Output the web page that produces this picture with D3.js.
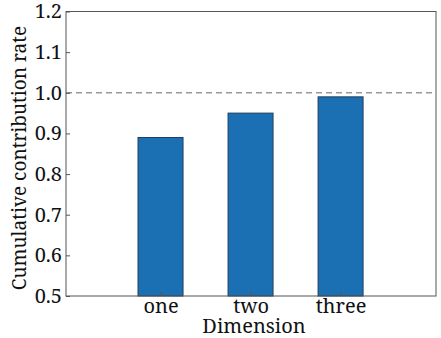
<!DOCTYPE html>
<html>
<head>
<meta charset="utf-8">
<script src="https://cdn.jsdelivr.net/npm/d3@7"></script>
<style>
  html, body { margin: 0; padding: 0; background: #fff; }
  svg { display: block; }
</style>
</head>
<body>
<svg id="chart" width="441" height="338"></svg>
<script>
// Cumulative contribution rate by dimension
const categories = ["one", "two", "three"];
const values = [0.89, 0.95, 0.99];
const yTicks = [0.5, 0.6, 0.7, 0.8, 0.9, 1.0, 1.1, 1.2];
const threshold = 1.0;

const W = 441, H = 338;
const margin = { left: 66, right: 5, top: 11.5, bottom: 42 };
const x0 = margin.left, x1 = W - margin.right;
const y0 = H - margin.bottom, y1 = margin.top;
const fontSize = 20;
const serif = '"Noto Serif", "DejaVu Serif", serif';

const svg = d3.select("#chart");

// categories sit at positions 1..3 on a numeric axis
const x = d3.scaleLinear().domain([-0.05, 4.06]).range([x0, x1]);
const y = d3.scaleLinear().domain([0.5, 1.2]).range([y0, y1]);
const barW = 0.5;

// bars
svg.append("g").selectAll("rect")
  .data(values)
  .join("rect")
  .attr("x", (d, i) => x(i + 1 - barW / 2))
  .attr("y", d => y(d))
  .attr("width", (d, i) => x(i + 1 + barW / 2) - x(i + 1 - barW / 2))
  .attr("height", d => y(0.5) - y(d))
  .attr("fill", "#1b6fb3")
  .attr("stroke", "#233f5c")
  .attr("stroke-width", 1);

// reference line at full contribution
svg.append("line")
  .attr("x1", x0).attr("x2", x1)
  .attr("y1", y(threshold)).attr("y2", y(threshold))
  .attr("stroke", "#999")
  .attr("stroke-width", 1.5)
  .attr("stroke-dasharray", "6,4");

function styleText(sel, size = fontSize) {
  sel.style("font-family", serif)
    .style("font-size", size + "px")
    .style("fill", "#111");
}

// y axis (ticks pointing inward)
const yAxis = d3.axisLeft(y)
  .tickValues(yTicks)
  .tickFormat(d3.format(".1f"))
  .tickSizeInner(-4)
  .tickSizeOuter(0)
  .tickPadding(4);
const gy = svg.append("g").attr("transform", `translate(${x0},0)`).call(yAxis);
gy.select(".domain").remove();
gy.selectAll(".tick line").attr("stroke", "#555");
gy.selectAll(".tick text").call(styleText);

// x axis (ticks pointing inward)
const xAxis = d3.axisBottom(x)
  .tickValues([1, 2, 3])
  .tickFormat((d, i) => categories[i])
  .tickSizeInner(-4)
  .tickSizeOuter(0)
  .tickPadding(3);
const gx = svg.append("g").attr("transform", `translate(0,${y0})`).call(xAxis);
gx.select(".domain").remove();
gx.selectAll(".tick line").attr("stroke", "#555");
gx.selectAll(".tick text").call(styleText);

// plot frame
svg.append("rect")
  .attr("x", x0).attr("y", y1)
  .attr("width", x1 - x0).attr("height", y0 - y1)
  .attr("fill", "none")
  .attr("stroke", "#555")
  .attr("stroke-width", 1);

// axis titles
svg.append("text")
  .attr("x", 254)
  .attr("y", 332.5)
  .attr("text-anchor", "middle")
  .call(styleText)
  .text("Dimension");

svg.append("text")
  .attr("transform", "translate(26,158) rotate(-90)")
  .attr("text-anchor", "middle")
  .call(styleText, 19)
  .text("Cumulative contribution rate");
</script>
</body>
</html>
